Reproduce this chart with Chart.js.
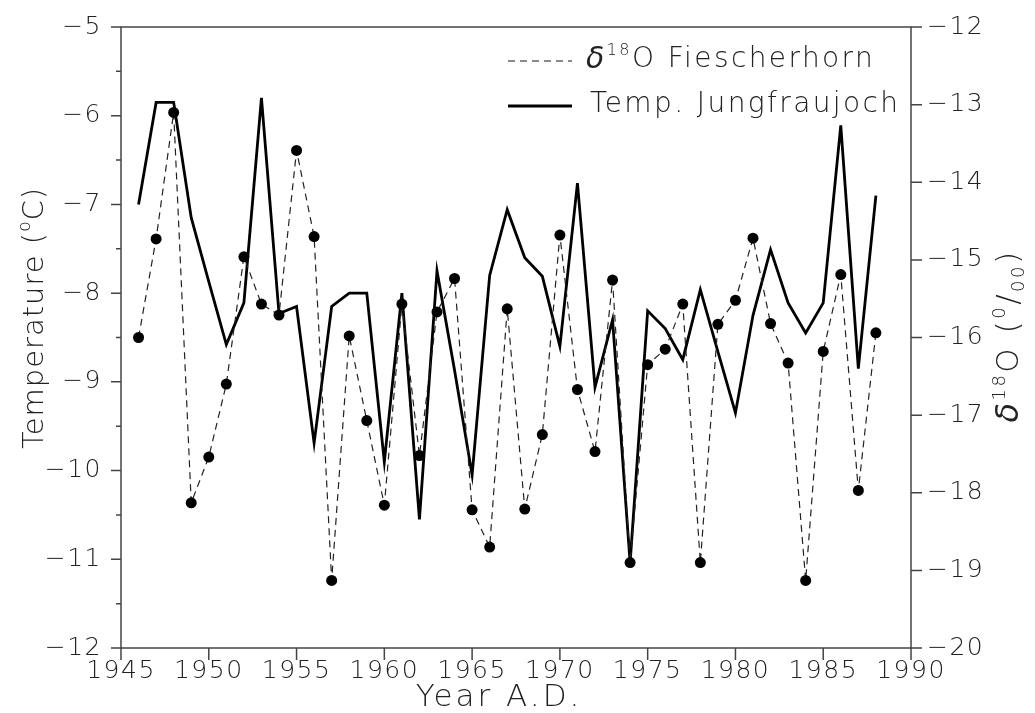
<!DOCTYPE html>
<html>
<head>
<meta charset="utf-8">
<script src="https://cdn.jsdelivr.net/npm/chart.js@4/dist/chart.umd.min.js"></script>
<style>
  body { margin: 0; background: #fff; }
  #c { display: block; }
</style>
</head>
<body>
<canvas id="c" width="1035" height="713"></canvas>
<script>
// data
var years = [1946,1947,1948,1949,1950,1951,1952,1953,1954,1955,
             1956,1957,1958,1959,1960,1961,1962,1963,1964,1965,
             1966,1967,1968,1969,1970,1971,1972,1973,1974,1975,
             1976,1977,1978,1979,1980,1981,1982,1983,1984,1985,
             1986,1987,1988];
var tempJungfraujoch = [-7.0,-5.85,-5.85,-7.15,-7.87,-8.58,-8.11,-5.80,-8.23,-8.15,
                        -9.69,-8.15,-8.0,-8.0,-9.90,-8.0,-10.55,-7.75,-8.87,-10.05,
                        -7.80,-7.06,-7.60,-7.81,-8.60,-6.76,-9.06,-8.30,-11.04,-8.20,
                        -8.40,-8.75,-7.96,-8.66,-9.35,-8.25,-7.51,-8.11,-8.45,-8.11,
                        -6.11,-8.85,-6.90];
var d18oFiescherhorn = [-16.0,-14.73,-13.1,-18.13,-17.54,-16.6,-14.96,-15.57,-15.71,-13.59,
                        -14.70,-19.13,-15.98,-17.07,-18.16,-15.57,-17.52,-15.67,-15.24,-18.22,
                        -18.70,-15.63,-18.21,-17.25,-14.68,-16.67,-17.47,-15.26,-18.90,-16.35,
                        -16.15,-15.57,-18.90,-15.83,-15.52,-14.72,-15.82,-16.33,-19.13,-16.18,
                        -15.19,-17.97,-15.94];
var yearRange = [1945, 1990];
var tempRange = [-12, -5];
var d18oRange = [-20, -12];

var FONT = '"DejaVu Sans", sans-serif';
var MINUS = '\u2212';

function toPoints(xs, ys) {
  var out = [];
  for (var i = 0; i < xs.length; i++) out.push({x: xs[i], y: ys[i]});
  return out;
}

function fmtNeg(v) {
  return v < 0 ? MINUS + Math.abs(v) : String(v);
}

// draws a row of text pieces (for super/subscripts), centred on cx,cy
function richText(ctx, parts, cx, cy, rot, spacing) {
  ctx.save();
  ctx.translate(cx, cy);
  ctx.rotate(rot || 0);
  ctx.letterSpacing = (spacing || 0) + 'px';
  ctx.textBaseline = 'middle';
  ctx.textAlign = 'left';
  var w = 0;
  parts.forEach(function (p) {
    ctx.font = (p.it ? 'italic ' : '') + '200 ' + p.s + 'px ' + FONT;
    p.w = ctx.measureText(p.t).width;
    w += p.w;
  });
  var x = -w / 2;
  parts.forEach(function (p) {
    ctx.font = (p.it ? 'italic ' : '') + '200 ' + p.s + 'px ' + FONT;
    ctx.fillText(p.t, x, p.dy || 0);
    x += p.w;
  });
  ctx.restore();
  return w;
}

var spacing = {
  id: 'spacing',
  beforeDraw: function (chart) { chart.ctx.letterSpacing = '1.5px'; },
  beforeLayout: function (chart) { chart.ctx.letterSpacing = '1.5px'; }
};

var decorations = {
  id: 'decorations',
  afterDraw: function (chart) {
    var ctx = chart.ctx;
    var ca = chart.chartArea;
    var xs = chart.scales.x, yt = chart.scales.yT, yd = chart.scales.yD;
    ctx.save();
    // frame
    ctx.strokeStyle = '#444';
    ctx.lineWidth = 1.5;
    ctx.strokeRect(ca.left, ca.top, ca.right - ca.left, ca.bottom - ca.top);
    ctx.beginPath();
    // left ticks, major + half steps
    for (var v = tempRange[0]; v <= tempRange[1] + 0.001; v += 0.5) {
      var y = yt.getPixelForValue(v);
      var len = Math.abs(v - Math.round(v)) < 0.01 ? 10 : 5;
      ctx.moveTo(ca.left - len, y); ctx.lineTo(ca.left, y);
    }
    // right ticks
    for (var d = d18oRange[0]; d <= d18oRange[1]; d++) {
      var y2 = yd.getPixelForValue(d);
      ctx.moveTo(ca.right, y2); ctx.lineTo(ca.right + 11, y2);
    }
    // bottom ticks
    for (var t = yearRange[0]; t <= yearRange[1]; t += 5) {
      var x = xs.getPixelForValue(t);
      ctx.moveTo(x, ca.bottom); ctx.lineTo(x, ca.bottom + 12);
    }
    ctx.stroke();

    // legend
    ctx.strokeStyle = '#666';
    ctx.lineWidth = 1.5;
    ctx.setLineDash([7, 5]);
    ctx.beginPath(); ctx.moveTo(508, 61); ctx.lineTo(572, 61); ctx.stroke();
    ctx.setLineDash([]);
    ctx.strokeStyle = '#000';
    ctx.lineWidth = 3;
    ctx.beginPath(); ctx.moveTo(508, 106); ctx.lineTo(572, 106); ctx.stroke();

    ctx.fillStyle = '#222';
    var p1 = [{t: '\u03b4', s: 30, it: true}, {t: '18', s: 16, dy: -9}, {t: 'O Fiescherhorn', s: 28}];
    var w1 = richText(ctx, p1, 0, -1000, 0, 2.4);
    richText(ctx, p1, 586 + w1 / 2, 60, 0, 2.4);
    var p2 = [{t: 'Temp. Jungfraujoch', s: 28}];
    var w2 = richText(ctx, p2, 0, -1000, 0, 2.4);
    richText(ctx, p2, 590 + w2 / 2, 105, 0, 2.4);

    // axis titles
    richText(ctx, [{t: 'Temperature (', s: 29}, {t: 'o', s: 17, dy: -9}, {t: 'C)', s: 29}], 35, 318, -Math.PI / 2, 1);
    richText(ctx, [{t: '\u03b4', s: 32, it: true}, {t: '18', s: 18, dy: -10}, {t: 'O (', s: 31},
                   {t: '0', s: 18, dy: -10}, {t: '/', s: 31}, {t: '00', s: 18, dy: 9}, {t: ')', s: 31}],
              1010, 336, -Math.PI / 2, 2.5);
    richText(ctx, [{t: 'Year A.D.', s: 31}], 499, 698, 0, 3);
    ctx.restore();
  }
};

var tickFont = {family: FONT, size: 25, weight: 200};

function noPad(s) {
  s.paddingTop = 0; s.paddingBottom = 0; s.paddingLeft = 0; s.paddingRight = 0;
}

new Chart(document.getElementById('c'), {
  type: 'line',
  data: {
    datasets: [{
      label: 'd18O Fiescherhorn',
      data: toPoints(years, d18oFiescherhorn),
      yAxisID: 'yD',
      borderColor: '#222',
      borderWidth: 1.2,
      borderDash: [7, 5],
      pointRadius: 5.5,
      pointBackgroundColor: '#000',
      pointBorderWidth: 0,
      tension: 0
    }, {
      label: 'Temp. Jungfraujoch',
      data: toPoints(years, tempJungfraujoch),
      yAxisID: 'yT',
      borderColor: '#000',
      borderWidth: 2.8,
      pointRadius: 0,
      tension: 0
    }]
  },
  options: {
    responsive: false,
    animation: false,
    layout: {padding: {top: 27, left: 0, right: 0, bottom: 0}},
    plugins: {legend: {display: false}, tooltip: {enabled: false}},
    scales: {
      x: {
        type: 'linear', min: yearRange[0], max: yearRange[1],
        grid: {display: false, drawTicks: false}, border: {display: false},
        ticks: {stepSize: 5, padding: 8, font: tickFont, color: '#222', maxRotation: 0,
                callback: function (v) { return String(v); }},
        afterFit: function (s) { s.height = 65; noPad(s); }
      },
      yT: {
        type: 'linear', position: 'left', min: tempRange[0], max: tempRange[1],
        grid: {display: false, drawTicks: false}, border: {display: false},
        ticks: {stepSize: 0.5, autoSkip: false, padding: 19, font: tickFont, color: '#222',
                callback: function (v) { return Math.abs(v - Math.round(v)) < 0.01 ? fmtNeg(v) : ''; }},
        afterFit: function (s) { s.width = 121; noPad(s); }
      },
      yD: {
        type: 'linear', position: 'right', min: d18oRange[0], max: d18oRange[1],
        grid: {display: false, drawTicks: false}, border: {display: false},
        ticks: {stepSize: 1, autoSkip: false, padding: 16, font: tickFont, color: '#222',
                callback: function (v) { return fmtNeg(v); }},
        afterFit: function (s) { s.width = 124; noPad(s); }
      }
    }
  },
  plugins: [spacing, decorations]
});
</script>
</body>
</html>
